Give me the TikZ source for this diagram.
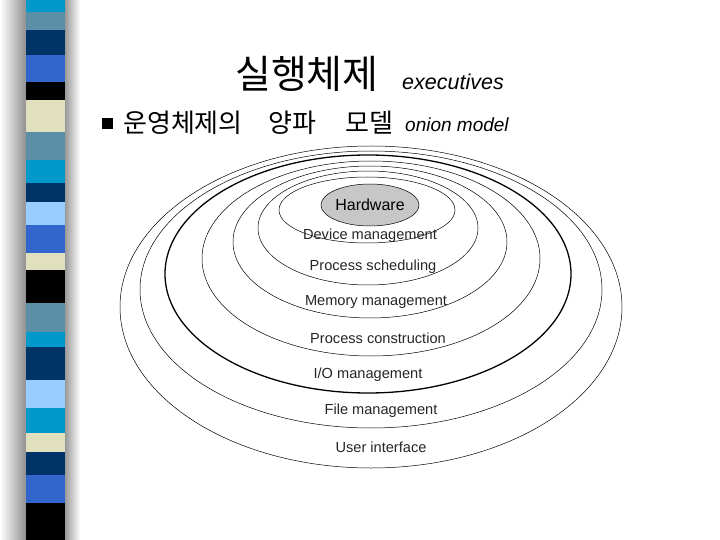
\documentclass[tikz,border=0pt]{standalone}
\usepackage{fontspec}
\setmainfont{Liberation Sans}
\newfontfamily\krfont{Noto Sans CJK KR}
\usetikzlibrary{shapes.geometric}
\definecolor{cA}{HTML}{0099CC}
\definecolor{cB}{HTML}{5B8FA8}
\definecolor{cC}{HTML}{003366}
\definecolor{cD}{HTML}{3366CC}
\definecolor{cE}{HTML}{E0E0BE}
\definecolor{cF}{HTML}{99CCFF}
\definecolor{cK}{HTML}{000000}
\tikzset{
  ring/.style={draw=black, line width=0.5pt},
  thickring/.style={draw=black, line width=1.3pt},
  lbl/.style={font=\fontsize{14.6}{16}\selectfont, text=black!85, inner sep=1pt},
  hw/.style={ellipse, draw=black, line width=0.5pt, fill=black!22, minimum width=84pt, minimum height=42pt, inner sep=0pt, font=\fontsize{16}{18}\selectfont},
  kr/.style={anchor=base west, inner sep=0pt, font=\krfont\fontsize{26}{28}\selectfont}
}
\begin{document}
\begin{tikzpicture}[x=1pt,y=-1pt]
\useasboundingbox (0,0) rectangle (720,540);
\fill[white] (0,0) rectangle (720,540);
% left shadow and stripe bar
\shade[left color=white, right color=black!45] (0,0) rectangle (27,540);
\shade[left color=black!40, right color=white] (65,0) rectangle (80,540);
\foreach \a/\b/\c in {0/12/cA,12/30/cB,30/55/cC,55/82/cD,82/100/cK,100/132/cE,132/160/cB,160/183/cA,183/202/cC,202/225/cF,225/253/cD,253/270/cE,270/303/cK,303/332/cB,332/347/cA,347/380/cC,380/408/cF,408/433/cA,433/452/cE,452/475/cC,475/503/cD,503/540/cK}
  \fill[\c] (26,\a) rectangle (65,\b);
% titles
\node[anchor=base west, inner sep=0pt, font=\krfont\fontsize{39}{42}\selectfont] (title) at (235,89) {실행체제};
\node[anchor=base west, inner sep=0pt, font=\itshape\fontsize{21.5}{24}\selectfont] (titleen) at (402,90) {executives};
\fill[black] (102,118) rectangle (113,129);
\node[kr] (sub1) at (123,133) {운영체제의};
\node[kr] (sub2) at (268,133) {양파};
\node[kr] (sub3) at (345,133) {모델};
\node[anchor=base west, inner sep=0pt, font=\itshape\fontsize{19}{21}\selectfont] (suben) at (405,132) {onion model};
% rings
\draw[ring] (371,307) ellipse [x radius=251pt, y radius=161pt];
\draw[ring] (371,289.5) ellipse [x radius=231pt, y radius=138.5pt];
\draw[thickring] (368,274) ellipse [x radius=203pt, y radius=119pt];
\draw[ring] (371,258.5) ellipse [x radius=169pt, y radius=97.5pt];
\draw[ring] (370,242) ellipse [x radius=137pt, y radius=76pt];
\draw[ring] (368,228) ellipse [x radius=110pt, y radius=57pt];
\draw[ring] (367,210) ellipse [x radius=88pt, y radius=33pt];
\node[hw] (hardware) at (370,205) {Hardware};
% labels
\node[lbl] (dev) at (370,236) {Device management};
\node[lbl] (sched) at (373,267) {Process scheduling};
\node[lbl] (mem) at (376,302) {Memory management};
\node[lbl] (cons) at (378,338) {Process construction};
\node[lbl] (io) at (368,375) {I/O management};
\node[lbl] (file) at (381,411) {File management};
\node[lbl] (ui) at (381,447) {User interface};
\end{tikzpicture}
\end{document}
